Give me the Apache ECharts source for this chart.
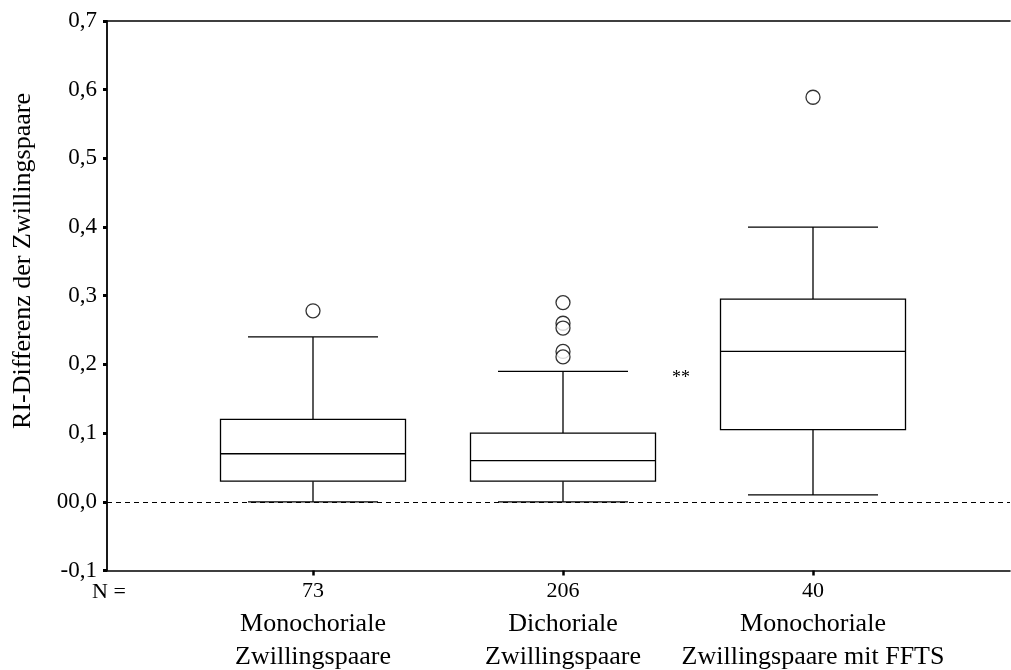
<!DOCTYPE html>
<html>
<head>
<meta charset="utf-8">
<script src="https://cdn.jsdelivr.net/npm/echarts@6/dist/echarts.min.js"></script>
<style>
html,body{margin:0;padding:0;background:#fff;}
#chart{width:1011px;height:670px;}
</style>
</head>
<body>
<div id="chart"></div>
<script>
// ---- data ----
const categoryNames = ['Monochoriale\nZwillingspaare', 'Dichoriale\nZwillingspaare', 'Monochoriale\nZwillingspaare mit FFTS'];
const nCounts = [73, 206, 40];
const groupPos = [1, 2, 3];
const lowerWhisker = [0.0, 0.0, 0.01];
const q1 = [0.03, 0.03, 0.105];
const median = [0.07, 0.06, 0.219];
const q3 = [0.12, 0.10, 0.295];
const upperWhisker = [0.24, 0.19, 0.40];
const outliers1 = [0.278];
const outliers2 = [0.29, 0.26, 0.253, 0.219, 0.211];
const outliers3 = [0.589];
const yTickLabels = ['-0,1', '00,0', '0,1', '0,2', '0,3', '0,4', '0,5', '0,6', '0,7'];
const yTitle = 'RI-Differenz der Zwillingspaare';
const nLabel = 'N =';
const sigLabel = '**';

const FONT = '"Liberation Serif", "Times New Roman", serif';
const BOX_W = 0.74, CAP_W = 0.52;

const boxData = groupPos.map((p, i) => [p, lowerWhisker[i], q1[i], median[i], q3[i], upperWhisker[i]]);
const outlierData = [];
[outliers1, outliers2, outliers3].forEach((arr, i) => arr.forEach(v => outlierData.push([groupPos[i], v])));

function renderBox(params, api) {
  const x = api.value(0);
  const lo = api.coord([x, api.value(1)]);
  const b1 = api.coord([x, api.value(2)]);
  const md = api.coord([x, api.value(3)]);
  const b3 = api.coord([x, api.value(4)]);
  const hi = api.coord([x, api.value(5)]);
  const bw = api.size([BOX_W, 0])[0];
  const cw = api.size([CAP_W, 0])[0];
  const cx = lo[0];
  const st = { stroke: '#000', lineWidth: 1.3, fill: null };
  const line = (x1, y1, x2, y2) => ({ type: 'line', shape: { x1, y1, x2, y2 }, style: st });
  return {
    type: 'group',
    children: [
      line(cx, b3[1], cx, hi[1]),
      line(cx, b1[1], cx, lo[1]),
      line(cx - cw / 2, hi[1], cx + cw / 2, hi[1]),
      line(cx - cw / 2, lo[1], cx + cw / 2, lo[1]),
      { type: 'rect', shape: { x: cx - bw / 2, y: b3[1], width: bw, height: b1[1] - b3[1] }, style: { fill: '#fff', stroke: '#000', lineWidth: 1.3 } },
      line(cx - bw / 2, md[1], cx + bw / 2, md[1])
    ]
  };
}

const chart = echarts.init(document.getElementById('chart'), null, { renderer: 'canvas' });
const xMin = 0.176, xMax = 3.788;
chart.setOption({
  animation: false,
  backgroundColor: '#fff',
  textStyle: { fontFamily: FONT, color: '#000' },
  grid: { left: 107, right: 1, top: 21, bottom: 99, containLabel: false },
  xAxis: [{
    type: 'value', min: xMin, max: xMax, position: 'bottom',
    splitLine: { show: false },
    axisLine: { show: true, onZero: false, lineStyle: { color: '#000', width: 1.6 } },
    axisTick: { show: true, customValues: groupPos, length: 5, lineStyle: { color: '#000', width: 2.5 } },
    axisLabel: {
      show: true, customValues: groupPos, margin: 5, color: '#000', fontFamily: FONT,
      formatter: (v) => {
        const i = groupPos.indexOf(Math.round(v));
        if (i < 0) return '';
        const lines = categoryNames[i].split('\n');
        return '{n|' + nCounts[i] + '}\n' + lines.map(l => '{c|' + l + '}').join('\n');
      },
      rich: {
        n: { fontSize: 22, lineHeight: 32, fontFamily: FONT, color: '#000', align: 'center' },
        c: { fontSize: 26, lineHeight: 33, fontFamily: FONT, color: '#000', align: 'center' }
      }
    }
  }, {
    type: 'value', min: xMin, max: xMax, position: 'top',
    splitLine: { show: false },
    axisLine: { show: true, onZero: false, lineStyle: { color: '#000', width: 1.6 } },
    axisTick: { show: false }, axisLabel: { show: false }
  }],
  yAxis: {
    type: 'value', min: -0.1, max: 0.7, interval: 0.1,
    splitLine: { show: false },
    axisLine: { show: true, onZero: false, lineStyle: { color: '#000', width: 1.8 } },
    axisTick: { show: true, length: 4, lineStyle: { color: '#000', width: 3 } },
    axisLabel: {
      margin: 10, fontSize: 23, fontFamily: FONT, color: '#000',
      formatter: (v, idx) => yTickLabels[idx]
    }
  },
  graphic: [
    { type: 'text', x: 23, y: 261, rotation: Math.PI / 2,
      style: { text: yTitle, font: '26px ' + FONT, fill: '#000', align: 'center', verticalAlign: 'middle' } },
    { type: 'text', x: 109, y: 592,
      style: { text: nLabel, font: '22px ' + FONT, fill: '#000', align: 'center', verticalAlign: 'middle' } },
    { type: 'text', x: 681, y: 378,
      style: { text: sigLabel, font: '18px ' + FONT, fill: '#000', align: 'center', verticalAlign: 'middle' } }
  ],
  series: [
    {
      type: 'line', data: [], silent: true, z: 1,
      markLine: {
        silent: true, symbol: 'none', label: { show: false },
        lineStyle: { color: '#000', type: [5, 4], width: 1 },
        data: [{ yAxis: 0 }]
      }
    },
    {
      type: 'custom', renderItem: renderBox, data: boxData, z: 3,
      encode: { x: 0, y: [1, 2, 3, 4, 5] }
    },
    {
      type: 'scatter', data: outlierData, symbol: 'circle', symbolSize: 14, z: 4,
      itemStyle: { color: '#fff', borderColor: '#000', borderWidth: 1.3 }
    }
  ]
});
</script>
</body>
</html>
